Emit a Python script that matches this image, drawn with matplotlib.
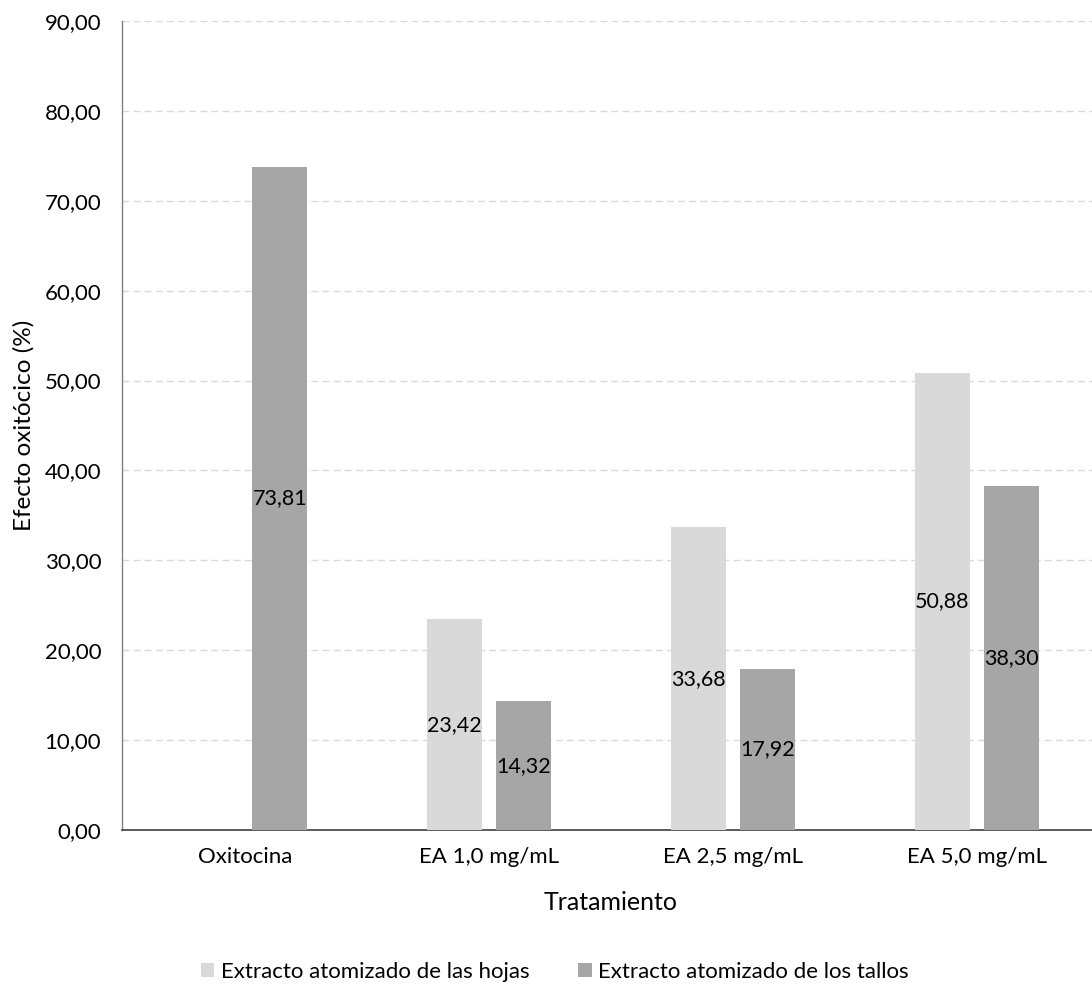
import matplotlib
matplotlib.use("Agg")
import matplotlib.pyplot as plt
import numpy as np

plt.rcParams['font.family'] = ['Lato', 'DejaVu Sans']

categories = ["Oxitocina", "EA 1,0 mg/mL", "EA 2,5 mg/mL", "EA 5,0 mg/mL"]
hojas = [np.nan, 23.42, 33.68, 50.88]
tallos = [73.81, 14.32, 17.92, 38.30]
series_names = ["Extracto atomizado de las hojas", "Extracto atomizado de los tallos"]
yticks = [0, 10, 20, 30, 40, 50, 60, 70, 80, 90]

fig = plt.figure(figsize=(10.92, 9.85), dpi=100)
ax = fig.add_axes([122 / 1092, 1 - 830 / 985, 970 / 1092, 809 / 985])

x = np.arange(len(categories))
w = 0.225
off = 0.1424
c_h = "#D9D9D9"
c_t = "#A6A6A6"
b1 = ax.bar(x - off, hojas, w, color=c_h, label=series_names[0], zorder=3)
b2 = ax.bar(x + off, tallos, w, color=c_t, label=series_names[1], zorder=3)


def fmt(v):
    return f"{v:.2f}".replace(".", ",")


for xs, vals in ((x - off, hojas), (x + off, tallos)):
    for xi, v in zip(xs, vals):
        if np.isnan(v):
            continue
        ax.text(xi, v / 2, fmt(v), ha="center", va="center", fontsize=15.5,
                color="#000000", zorder=4)

ax.set_xlim(-0.504, 3.471)
ax.set_ylim(0, 90)
ax.set_yticks(yticks)
ax.set_yticklabels([fmt(t) for t in yticks], fontsize=16)
ax.set_xticks(x)
ax.set_xticklabels(categories, fontsize=16)
ax.tick_params(axis="x", length=0, pad=12)
ax.tick_params(axis="y", length=0, pad=15)
ax.yaxis.grid(True, color="#D9D9D9", linestyle=(0, (5, 3)), linewidth=1.0, zorder=0)

for s in ("top", "right"):
    ax.spines[s].set_visible(False)
ax.spines["left"].set_color("#808080")
ax.spines["left"].set_linewidth(1.0)
ax.spines["bottom"].set_color("#404040")
ax.spines["bottom"].set_linewidth(1.2)

ax.set_xlabel("Tratamiento", fontsize=18)
ax.set_ylabel("Efecto oxitócico (%)", fontsize=17.5)
ax.xaxis.label.set_va("center")
ax.yaxis.label.set_va("center")
ax.xaxis.set_label_coords((611 - 122) / 970, -(902 - 830) / 809)
ax.yaxis.set_label_coords(-(122 - 24) / 970, 0.5)

fig.legend(handles=[b1, b2], loc="center", bbox_to_anchor=(555 / 1092, 1 - 972 / 985),
           ncol=2, frameon=False, fontsize=16, handlelength=0.6, handleheight=0.6,
           handletextpad=0.3, columnspacing=2.2)

fig.savefig("out.png", dpi=100, facecolor="white")
